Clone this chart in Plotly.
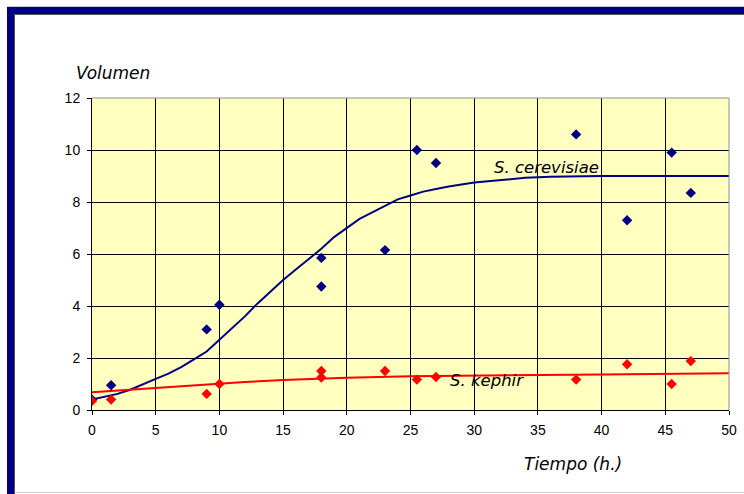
import plotly.graph_objects as go

# ---- data ----
cerev_x = [0, 1.5, 9, 10, 18, 18, 23, 25.5, 27, 38, 42, 45.5, 47]
cerev_y = [0.4, 0.95, 3.1, 4.05, 5.85, 4.75, 6.15, 10.0, 9.5, 10.6, 7.3, 9.9, 8.35]

kephir_x = [0, 1.5, 9, 10, 18, 18, 23, 25.5, 27, 38, 42, 45.5, 47]
kephir_y = [0.35, 0.4, 0.62, 1.0, 1.5, 1.25, 1.5, 1.17, 1.27, 1.17, 1.76, 1.0, 1.88]

cerev_fit_x = [0, 1, 2, 3, 4, 5, 6, 7, 8, 9, 10, 11, 12, 13, 14, 15, 16, 17, 18, 19, 20,
               21, 22, 23, 24, 25, 26, 27, 28, 30, 32, 34, 36, 40, 50]
cerev_fit_y = [0.4, 0.5, 0.62, 0.78, 1.0, 1.2, 1.4, 1.65, 1.95, 2.25, 2.7, 3.15, 3.6, 4.1, 4.55,
               5.0, 5.4, 5.8, 6.2, 6.65, 7.0, 7.35, 7.6, 7.85, 8.1, 8.25, 8.4, 8.5, 8.6, 8.75,
               8.85, 8.93, 8.97, 9.0, 9.0]

kephir_fit_x = [0, 2, 4, 6, 8, 10, 12, 15, 20, 25, 30, 40, 50]
kephir_fit_y = [0.68, 0.75, 0.8, 0.87, 0.95, 1.02, 1.08, 1.15, 1.24, 1.3, 1.33, 1.37, 1.41]

x_ticks = [0, 5, 10, 15, 20, 25, 30, 35, 40, 45, 50]
y_ticks = [0, 2, 4, 6, 8, 10, 12]

NAVY = "#000080"
RED = "#FF0000"
TICKFONT = "Liberation Sans Narrow, Arial Narrow, Liberation Sans, sans-serif"
TEXTFONT = "DejaVu Sans, Verdana, sans-serif"

W, H = 744, 494
# plot area in page pixels: x 92..729, y 98..410
L, T = 92, 98
R = W - 729
B = H - 410
pw, ph = W - L - R, H - T - B


def px(X):
    return (X - L) / pw


def py(Y):
    return (H - B - Y) / ph


fig = go.Figure()
fig.add_trace(go.Scatter(x=cerev_fit_x, y=cerev_fit_y, mode="lines",
                         line=dict(color=NAVY, width=2), hoverinfo="skip"))
fig.add_trace(go.Scatter(x=kephir_fit_x, y=kephir_fit_y, mode="lines",
                         line=dict(color=RED, width=2), hoverinfo="skip"))
fig.add_trace(go.Scatter(x=cerev_x, y=cerev_y, mode="markers",
                         marker=dict(symbol="diamond", size=8, color=NAVY, line=dict(width=0))))
fig.add_trace(go.Scatter(x=kephir_x, y=kephir_y, mode="markers",
                         marker=dict(symbol="diamond", size=8, color=RED, line=dict(width=0))))

shapes = [
    # navy frame
    dict(type="rect", xref="paper", yref="paper", x0=px(7), x1=px(770), y0=py(7), y1=py(14),
         fillcolor=NAVY, line=dict(width=0), layer="above"),
    dict(type="rect", xref="paper", yref="paper", x0=px(7), x1=px(14), y0=py(7), y1=py(520),
         fillcolor=NAVY, line=dict(width=0), layer="above"),
    # shadow lines
    dict(type="line", xref="paper", yref="paper", x0=px(14), x1=px(770), y0=py(14.5), y1=py(14.5),
         line=dict(color="#555555", width=1), layer="above"),
    dict(type="line", xref="paper", yref="paper", x0=px(14.5), x1=px(14.5), y0=py(14), y1=py(520),
         line=dict(color="#555555", width=1), layer="above"),
    dict(type="line", xref="paper", yref="paper", x0=px(7), x1=px(770), y0=py(6.5), y1=py(6.5),
         line=dict(color="#c8c8d8", width=1), layer="above"),
    dict(type="line", xref="paper", yref="paper", x0=px(15), x1=px(770), y0=py(492.5), y1=py(492.5),
         line=dict(color="#d0d0d0", width=1), layer="above"),
    # gray top/right plot border
    dict(type="line", xref="paper", yref="paper", x0=0, x1=1, y0=1, y1=1,
         line=dict(color="#909090", width=1), layer="above"),
    dict(type="line", xref="paper", yref="paper", x0=1, x1=1, y0=0, y1=1,
         line=dict(color="#909090", width=1), layer="above"),
]

annotations = [
    dict(text="<i>Volumen</i>", xref="paper", yref="paper", x=px(113), y=py(73),
         xanchor="center", yanchor="middle",
         showarrow=False, font=dict(family=TEXTFONT, size=17, color="black")),
    dict(text="<i>Tiempo (h.)</i>", xref="paper", yref="paper", x=px(573), y=py(464),
         xanchor="center", yanchor="middle",
         showarrow=False, font=dict(family=TEXTFONT, size=17, color="black")),
    dict(text="<i>S. cerevisiae</i>", xref="x", yref="y", x=35.7, y=9.33,
         xanchor="center", yanchor="middle",
         showarrow=False, font=dict(family=TEXTFONT, size=16.5, color="black")),
    dict(text="<i>S. kephir</i>", xref="x", yref="y", x=31, y=1.15,
         xanchor="center", yanchor="middle",
         showarrow=False, font=dict(family=TEXTFONT, size=16.5, color="black")),
]

axis_common = dict(showgrid=True, gridcolor="black", gridwidth=1,
                   showline=True, linecolor="black", linewidth=1,
                   ticks="outside", ticklen=4, tickcolor="black",
                   zeroline=False, tickfont=dict(size=14, family=TICKFONT, color="black"),
                   automargin=False, fixedrange=True)

fig.update_layout(
    width=W, height=H,
    autosize=False,
    margin=dict(l=L, r=R, t=T, b=B, pad=0, autoexpand=False),
    paper_bgcolor="white",
    plot_bgcolor="#FFFFC0",
    showlegend=False,
    shapes=shapes,
    annotations=annotations,
    font=dict(family=TICKFONT, size=14, color="black"),
    xaxis=dict(range=[0, 50], tickvals=x_ticks, ticktext=[str(v) for v in x_ticks],
               ticklabelstandoff=3, **axis_common),
    yaxis=dict(range=[0, 12], tickvals=y_ticks, ticktext=[str(v) for v in y_ticks],
               ticklabelstandoff=4, **axis_common),
)

fig.write_html(
    "out.html",
    config={"displayModeBar": False, "responsive": False},
    post_script="document.body.style.margin='0';document.body.style.overflow='hidden';",
)
